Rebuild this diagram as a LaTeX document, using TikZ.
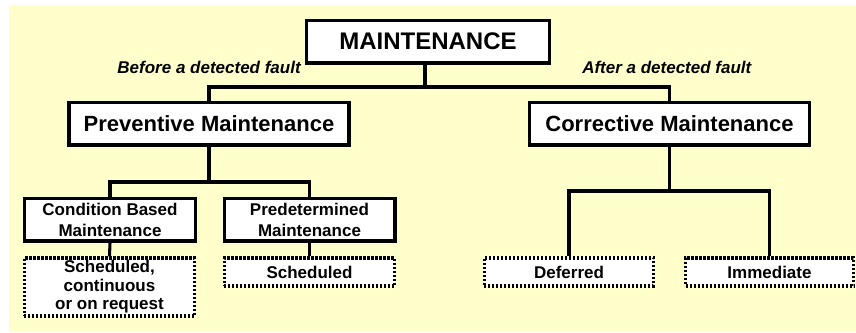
\documentclass[tikz,border=0pt]{standalone}
\usepackage{fontspec}
\setmainfont{Liberation Sans}
\definecolor{bgyellow}{RGB}{255,255,204}
\tikzset{
  solidbox/.style={draw=black, line width=2.5pt, fill=white, inner sep=0pt, align=center, font=\bfseries},
  dotbox/.style={draw=black, line width=2.4pt, dash pattern=on 1.6pt off 1.4pt, fill=white, inner sep=0pt, align=center, font=\fontsize{12.75}{13.8}\selectfont\bfseries},
  wire/.style={draw=black, line width=2.3pt},
  lbl/.style={inner sep=0pt, font=\fontsize{12.75}{15}\selectfont\bfseries\itshape}
}
\begin{document}
\begin{tikzpicture}[x=0.75pt,y=-0.75pt]
\useasboundingbox (0,0) rectangle (856,332);
\fill[bgyellow] (9,5) rectangle (856,332);
% top
\node[solidbox, minimum width=182pt, minimum height=32pt, font=\fontsize{18}{20}\selectfont\bfseries] (main) at (428,41.5) {MAINTENANCE};
\node[solidbox, minimum width=210pt, minimum height=32pt, font=\fontsize{16.5}{18}\selectfont\bfseries] (prev) at (209,123.5) {Preventive Maintenance};
\node[solidbox, minimum width=210pt, minimum height=32pt, font=\fontsize{16.5}{18}\selectfont\bfseries] (corr) at (669.5,123.5) {Corrective Maintenance};
\node[lbl, anchor=east] (before) at (301,67) {Before a detected fault};
\node[lbl, anchor=west] (after) at (582,67) {After a detected fault};
% second level
\node[solidbox, minimum width=128pt, minimum height=32pt, font=\fontsize{12.75}{15.75}\selectfont\bfseries] (cond) at (110,219.5) {Condition Based\\Maintenance};
\node[solidbox, minimum width=128pt, minimum height=32pt, font=\fontsize{12.75}{15.75}\selectfont\bfseries] (pred) at (309.5,219.5) {Predetermined\\Maintenance};
% dotted boxes
\node[dotbox, minimum width=128pt, minimum height=43.5pt] (sched3) at (109.5,287) {Scheduled,\\continuous\\or on request};
\node[dotbox, minimum width=128pt, minimum height=21pt] (sched) at (309.5,272) {Scheduled};
\node[dotbox, minimum width=127pt, minimum height=21pt] (defer) at (569,272) {Deferred};
\node[dotbox, minimum width=126pt, minimum height=21pt] (immed) at (769.5,272) {Immediate};
% connectors
\coordinate (b1) at (425,87);
\draw[wire] (main.south -| b1) -- (b1);
\draw[wire] (prev.north) |- (b1) -| (corr.north);
\coordinate (b2) at (209,182);
\draw[wire] (prev.south) -- (b2);
\draw[wire] (cond.north) |- (b2) -| (pred.north);
\coordinate (b3) at (669.5,191);
\draw[wire] (corr.south) -- (b3);
\draw[wire] (defer.north) |- (b3) -| (immed.north);
\draw[wire] (cond.south) -- (sched3.north);
\draw[wire] (pred.south) -- (sched.north);
\end{tikzpicture}
\end{document}
